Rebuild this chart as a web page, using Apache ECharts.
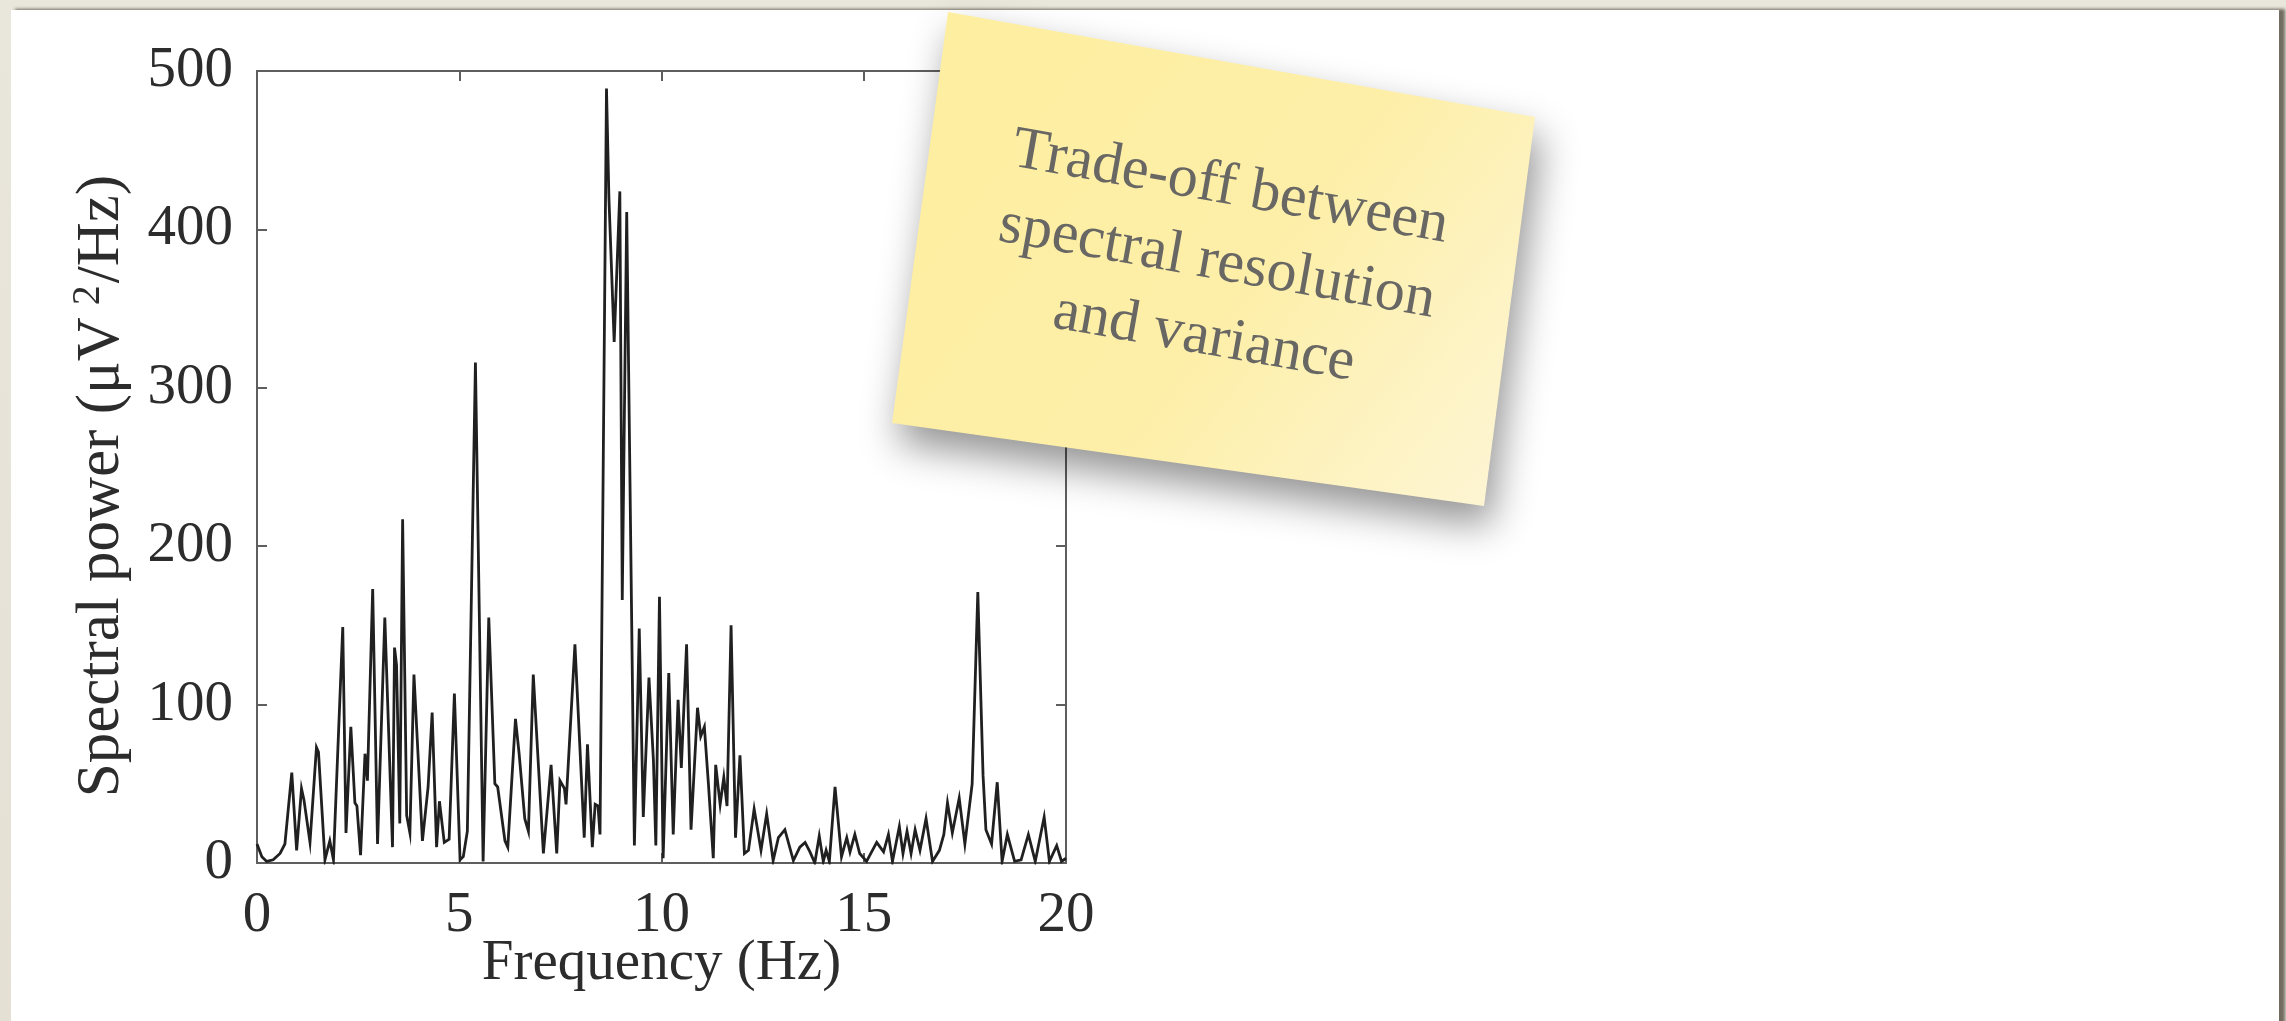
<!DOCTYPE html>
<html>
<head>
<meta charset="utf-8">
<title>Spectral power</title>
<script src="https://cdn.jsdelivr.net/npm/echarts@6/dist/echarts.min.js"></script>
<style>
  html, body { margin: 0; padding: 0; width: 2286px; height: 1021px; overflow: hidden;
    background: linear-gradient(180deg, #e9e6dc 0%, #e4e0d4 100%); }
  #sheet { position: absolute; left: 11px; top: 10px; width: 2268px; height: 1040px;
    background: #ffffff; box-shadow: 5px 0 3px 1px rgba(100, 95, 82, 0.9); }
  #chart { position: absolute; left: 0; top: 0; width: 2286px; height: 1021px; }
</style>
</head>
<body>
<div id="sheet"></div>
<div id="chart"></div>
<script>
// Periodogram of the recording, 0-20 Hz
const freqHz = [
  0.00, 0.12, 0.24, 0.40, 0.57, 0.69, 0.86, 0.98, 1.10, 1.16,
  1.31, 1.47, 1.52, 1.68, 1.80, 1.89, 2.12, 2.20, 2.32, 2.42,
  2.47, 2.56, 2.67, 2.73, 2.86, 2.98, 3.16, 3.35, 3.40, 3.45,
  3.53, 3.60, 3.70, 3.78, 3.88, 4.09, 4.23, 4.33, 4.44, 4.51,
  4.63, 4.75, 4.88, 5.02, 5.10, 5.20, 5.40, 5.59, 5.73, 5.88,
  5.95, 6.13, 6.20, 6.39, 6.48, 6.62, 6.71, 6.83, 7.08, 7.27,
  7.41, 7.49, 7.60, 7.64, 7.86, 8.09, 8.17, 8.29, 8.36, 8.43,
  8.48, 8.64, 8.70, 8.83, 8.97, 9.03, 9.14, 9.33, 9.45, 9.55,
  9.69, 9.80, 9.86, 9.95, 10.04, 10.18, 10.29, 10.41, 10.49, 10.62,
  10.73, 10.89, 10.97, 11.06, 11.16, 11.28, 11.34, 11.45, 11.54, 11.62,
  11.72, 11.83, 11.94, 12.05, 12.15, 12.29, 12.46, 12.60, 12.76, 12.89,
  13.05, 13.26, 13.42, 13.55, 13.67, 13.79, 13.90, 14.00, 14.07, 14.15,
  14.29, 14.45, 14.58, 14.66, 14.78, 14.90, 15.07, 15.32, 15.49, 15.61,
  15.71, 15.88, 15.97, 16.07, 16.17, 16.27, 16.39, 16.54, 16.70, 16.87,
  16.98, 17.07, 17.19, 17.36, 17.50, 17.68, 17.82, 17.95, 18.02, 18.16,
  18.30, 18.42, 18.55, 18.73, 18.89, 19.07, 19.24, 19.46, 19.59, 19.77,
  19.89, 20.00
];
const powerUv2 = [
  12, 4, 1, 2, 6, 12, 57, 8, 47, 40,
  13, 73, 70, 2, 14, 2, 149, 19, 86, 38,
  36, 5, 69, 52, 173, 12, 155, 10, 136, 125,
  25, 217, 30, 19, 119, 14, 48, 95, 10, 39,
  13, 15, 107, 2, 4, 20, 316, 1, 155, 50,
  48, 14, 10, 91, 69, 28, 20, 119, 6, 62,
  6, 52, 47, 37, 138, 16, 75, 10, 37, 36,
  18, 489, 420, 329, 424, 166, 411, 11, 148, 29,
  117, 65, 11, 168, 3, 120, 18, 103, 60, 138,
  21, 98, 80, 86, 50, 3, 62, 37, 54, 36,
  150, 16, 68, 6, 8, 34, 8, 31, 1.5, 16,
  21, 1.5, 10, 13, 7, 0, 17, 1, 8, 1,
  48, 4, 16, 7, 18, 6, 1, 13, 7, 18,
  1, 23, 6, 20, 6, 21, 8, 28, 1, 8,
  18, 38, 19, 41, 12, 50, 171, 55, 21, 12,
  51, 1, 18, 1, 2, 18, 1, 29, 1, 11,
  1, 3
];
const freqTicks = [0, 5, 10, 15, 20];
const powerTicks = [0, 100, 200, 300, 400, 500];

const noteLines = ['Trade-off between', 'spectral resolution', 'and variance'];

const serif = '"Liberation Serif", "DejaVu Serif", serif';
const frameColor = '#5e5e5e';
const labelColor = '#2c2c2c';

const chart = echarts.init(document.getElementById('chart'), null, { renderer: 'canvas' });

function frameAxis(extra) {
  return Object.assign({
    type: 'value',
    axisLine: { show: true, onZero: false, lineStyle: { color: frameColor, width: 2 } },
    axisTick: { show: true, inside: true, length: 10, lineStyle: { color: frameColor, width: 2 } },
    splitLine: { show: false },
    axisLabel: { show: false }
  }, extra);
}

function tickLabel(margin) {
  return {
    show: true, margin: margin, fontFamily: serif, fontSize: 57, color: labelColor,
    showMinLabel: true, showMaxLabel: true
  };
}

const option = {
  animation: false,
  backgroundColor: 'transparent',
  grid: { left: 257, top: 71, width: 809, height: 792, show: false },
  xAxis: [
    frameAxis({
      position: 'bottom',
      min: freqTicks[0], max: freqTicks[freqTicks.length - 1], interval: freqTicks[1] - freqTicks[0],
      axisLabel: tickLabel(25),
      name: 'Frequency (Hz)', nameLocation: 'middle', nameGap: 73, nameMoveOverlap: false,
      nameTextStyle: { fontFamily: serif, fontSize: 57, color: labelColor }
    }),
    frameAxis({
      position: 'top',
      min: freqTicks[0], max: freqTicks[freqTicks.length - 1], interval: freqTicks[1] - freqTicks[0]
    })
  ],
  yAxis: [
    frameAxis({
      position: 'left',
      min: powerTicks[0], max: powerTicks[powerTicks.length - 1], interval: powerTicks[1] - powerTicks[0],
      axisLabel: tickLabel(24),
      name: 'Spectral power (μV{sup|2}/Hz)', nameLocation: 'middle', nameGap: 121, nameMoveOverlap: false,
      nameTextStyle: {
        fontFamily: serif, fontSize: 61, color: labelColor, lineHeight: 68,
        padding: [0, 38, 0, 0],
        rich: { sup: { fontFamily: serif, fontSize: 40, color: labelColor, verticalAlign: 'top', lineHeight: 68, padding: [0, 2, 24, 12] } }
      }
    }),
    frameAxis({
      position: 'right',
      min: powerTicks[0], max: powerTicks[powerTicks.length - 1], interval: powerTicks[1] - powerTicks[0]
    })
  ],
  series: [{
    type: 'line',
    xAxisIndex: 0,
    yAxisIndex: 0,
    data: freqHz.map((f, i) => [f, powerUv2[i]]),
    showSymbol: false,
    symbol: 'none',
    clip: true,
    lineStyle: { color: '#202020', width: 2.8, join: 'miter' },
    z: 3
  }],
  graphic: [
    {
      type: 'polygon',
      z: 100,
      shape: { points: [[948, 12], [1535, 117], [1484, 506], [892, 423]] },
      style: {
        fill: new echarts.graphic.LinearGradient(0, 0, 1, 1, [
          { offset: 0, color: '#fdee9f' },
          { offset: 0.55, color: '#fdefa8' },
          { offset: 1, color: '#fdf6d8' }
        ]),
        shadowBlur: 38,
        shadowColor: 'rgba(0, 0, 0, 0.42)',
        shadowOffsetX: 6,
        shadowOffsetY: 20
      }
    },
    {
      type: 'text',
      z: 101,
      x: 1217,
      y: 263,
      rotation: -10 * Math.PI / 180,
      style: {
        text: noteLines.join('\n'),
        fontFamily: serif,
        fontSize: 60,
        lineHeight: 76,
        fill: '#686764',
        align: 'center',
        verticalAlign: 'middle'
      }
    }
  ]
};

chart.setOption(option);
</script>
</body>
</html>
